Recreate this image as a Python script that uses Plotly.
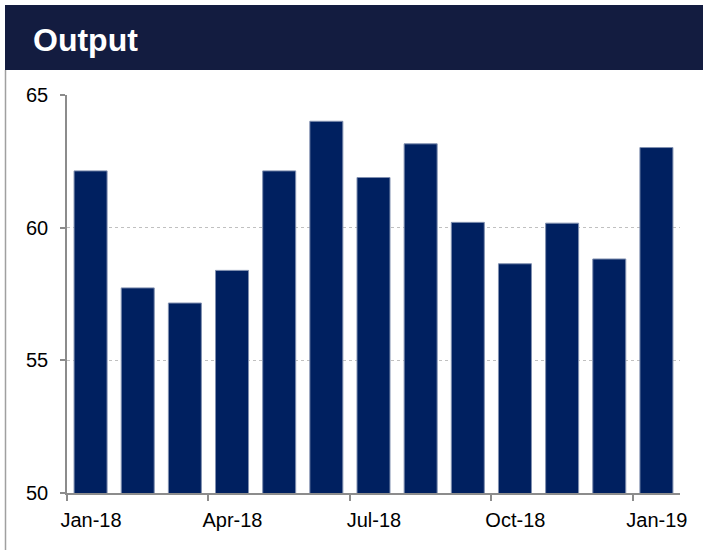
import plotly.graph_objects as go

months = ["Jan-18", "Feb-18", "Mar-18", "Apr-18", "May-18", "Jun-18", "Jul-18",
          "Aug-18", "Sep-18", "Oct-18", "Nov-18", "Dec-18", "Jan-19"]
output_values = [62.14, 57.73, 57.16, 58.39, 62.14, 64.01, 61.89,
                 63.16, 60.20, 58.64, 60.17, 58.82, 63.02]
tick_labels = ["Jan-18", "Apr-18", "Jul-18", "Oct-18", "Jan-19"]
y_ticks = [50, 55, 60, 65]
title_text = "Output"

W, H = 703, 550
L, R, T, B = 67, 680, 95, 493  # plot area pixel bounds

idx = list(range(len(months)))
label_pos = [months.index(m) - 0.5 for m in tick_labels]

fig = go.Figure()
fig.add_trace(go.Bar(
    x=idx, y=output_values, width=0.7,
    marker=dict(color="#002060", line=dict(color="#8090B0", width=1)),
    hovertext=months, showlegend=False,
))

def px_x(p):
    return (p - L) / (R - L)

def px_y(p):
    return (B - p) / (B - T)

slot_px = int(round((R - L) / len(months) / 2))

fig.update_layout(
    width=W, height=H,
    margin=dict(l=L, r=W - R, t=T, b=H - B, pad=0),
    paper_bgcolor="white", plot_bgcolor="white",
    font=dict(family="Liberation Sans, Arial, sans-serif", size=20, color="black"),
    bargap=0.3,
    xaxis=dict(
        range=[-0.5, len(months) - 0.5], tickmode="array",
        tickvals=label_pos, ticktext=tick_labels,
        ticks="outside", ticklen=6, tickwidth=1.5, tickcolor="#8C8C8C",
        showline=True, linecolor="#8C8C8C", linewidth=1.5,
        showgrid=False, zeroline=False,
        ticklabelshift=slot_px, ticklabelstandoff=2,
    ),
    yaxis=dict(
        range=[50, 65], tickmode="array", tickvals=y_ticks,
        ticks="outside", ticklen=5, tickwidth=1.5, tickcolor="#8C8C8C",
        showline=True, linecolor="#8C8C8C", linewidth=1.5,
        showgrid=True, gridcolor="#C0C0C0", griddash="dot", gridwidth=1.2,
        zeroline=False, ticklabelstandoff=8,
    ),
    shapes=[
        dict(type="rect", xref="paper", yref="paper",
             x0=px_x(5), x1=px_x(710), y0=px_y(70), y1=px_y(5),
             fillcolor="#131C40", line=dict(width=0), layer="above"),
        dict(type="line", xref="paper", yref="paper",
             x0=px_x(5.5), x1=px_x(5.5), y0=px_y(70), y1=px_y(555),
             line=dict(color="#A0A0A0", width=1.5)),
    ],
    annotations=[
        dict(text="<b>" + title_text + "</b>", xref="paper", yref="paper",
             x=px_x(31), y=px_y(40), xanchor="left", yanchor="middle",
             showarrow=False, font=dict(size=32, color="white",
                                        family="Liberation Sans, Arial, sans-serif")),
    ],
)

fig.write_html("out.html", config={"displayModeBar": False},
               post_script="document.body.style.margin='0';document.body.style.overflow='hidden';")
